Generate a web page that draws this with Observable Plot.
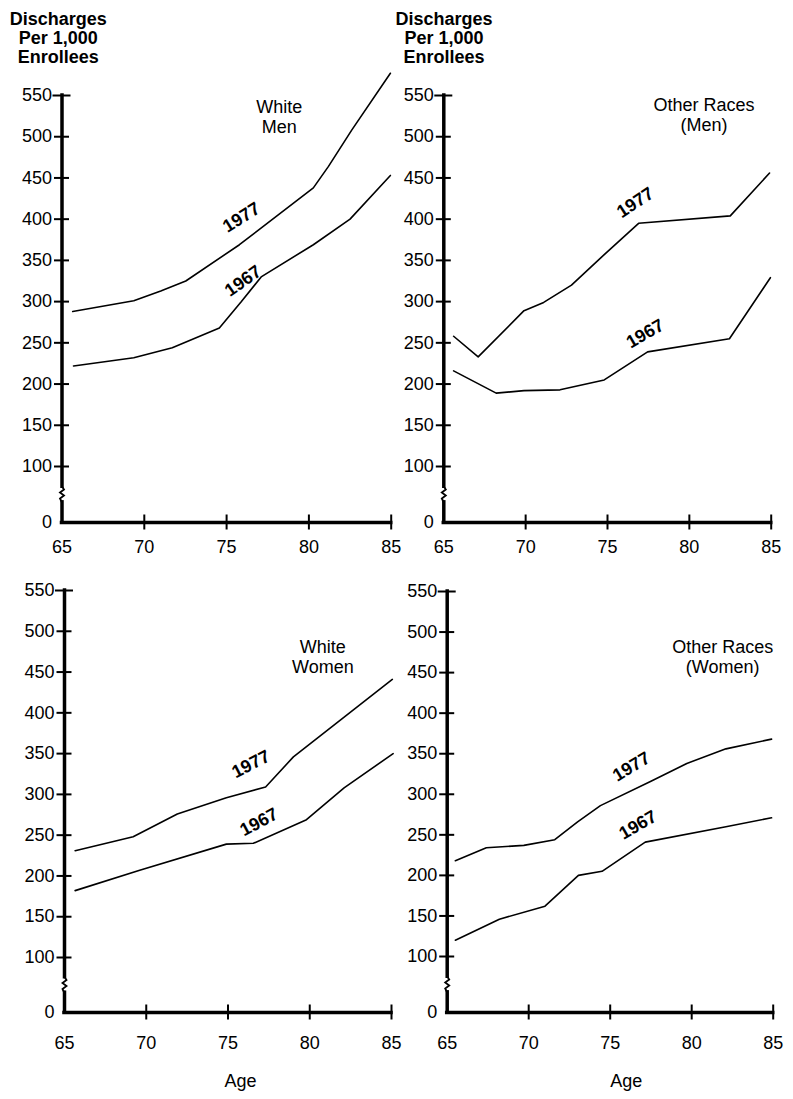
<!DOCTYPE html>
<html><head><meta charset="utf-8">
<script src="https://cdn.jsdelivr.net/npm/d3@7"></script>
<script src="https://cdn.jsdelivr.net/npm/@observablehq/plot@0.6"></script>
<style>
body{margin:0;background:#fff;}
#wrap{position:relative;width:793px;height:1099px;background:#fff;overflow:hidden;}
#wrap svg{position:absolute;}
</style></head><body><div id="wrap"></div>
<script>
// ---- data ----
const ageTicks = [65, 70, 75, 80, 85];
const rateTicks = [0, 100, 150, 200, 250, 300, 350, 400, 450, 500, 550];
const yTitle = "Discharges\nPer 1,000\nEnrollees";
const xTitle = "Age";
const years = ["1967", "1977"];
const panelNames = ["White\nMen", "Other Races\n(Men)", "White\nWomen", "Other Races\n(Women)"];

// [age, discharges per 1,000 enrollees]
const whiteMen1977 = [[65.65,288],[69.36,301],[71.0,313],[72.52,325],[75.78,369],[80.27,438],[81.19,464],[82.6,508],[84.95,577]];
const whiteMen1967 = [[65.7,222],[69.36,232],[71.7,244],[74.56,268],[75.9,300],[77.1,330],[80.27,369],[82.5,400],[84.95,453]];
const otherMen1977 = [[65.6,258],[67.1,233],[69.9,289],[71.1,299],[72.8,320],[74.8,357],[76.9,395],[82.5,404],[84.9,456]];
const otherMen1967 = [[65.6,216],[68.2,189],[69.9,192],[72.1,193],[74.8,205],[77.45,239],[82.45,255],[84.95,329]];
const whiteWomen1977 = [[65.65,231],[69.2,248],[71.9,276],[74.9,296],[77.3,309],[79.0,346],[85.05,441]];
const whiteWomen1967 = [[65.65,182],[69.6,207],[74.9,239],[76.55,240],[79.8,269],[82.1,308],[85.1,350]];
const otherWomen1977 = [[65.5,218],[67.4,234],[69.7,237],[71.6,244],[73.0,266],[74.4,286],[77.5,316],[79.7,338],[82.1,356],[84.9,368]];
const otherWomen1967 = [[65.5,120],[68.2,146],[71.0,162],[73.05,200],[74.5,205],[77.15,241],[82.1,260],[84.9,271]];

// ---- layout ----
const panels = [
  {left:0, top:0, width:400, height:560, ml:61.5, mr:9.3, y0:522, y100:466, y550:95,
   s77:whiteMen1977, s67:whiteMen1967, name:panelNames[0], namePos:[78.2,524],
   l77:[75.9,402,-32], l67:[76.0,325,-35], yTitle:true, yTitleDx:-3.8, xTitle:false, xPad:18},
  {left:390, top:0, width:403, height:560, ml:53.3, mr:22.3, y0:522, y100:466, y550:95,
   s77:otherMen1977, s67:otherMen1967, name:panelNames[1], namePos:[80.9,527],
   l77:[76.7,420,-33], l67:[77.3,261,-30], yTitle:true, yTitleDx:0.2, xTitle:false, xPad:18},
  {left:0, top:560, width:400, height:539, ml:64, mr:9, y0:452, y100:397, y550:30,
   s77:whiteWomen1977, s67:whiteWomen1967, name:panelNames[2], namePos:[80.8,469],
   l77:[76.4,337,-27], l67:[76.9,266,-28], yTitle:false, xTitle:true, xTitleDx:12.5, xPad:23.5},
  {left:390, top:560, width:403, height:539, ml:56.7, mr:20.3, y0:452, y100:396, y550:31,
   s77:otherWomen1977, s67:otherWomen1967, name:panelNames[3], namePos:[81.9,470],
   l77:[76.3,334,-31], l67:[76.7,262,-30], yTitle:false, xTitle:true, xTitleDx:16, xPad:23.5}
];

// small zig-zag symbol used for the axis break
const breakSymbol = {
  draw(ctx) {
    ctx.moveTo(0, -8);
    ctx.lineTo(2, -5);
    ctx.lineTo(-2, -2);
    ctx.lineTo(2, 1);
    ctx.lineTo(-2, 4);
    ctx.lineTo(0, 8);
  }
};

const wrap = document.getElementById("wrap");
const font = "'Liberation Sans', Arial, Helvetica, sans-serif";
const fs = 18;

for (const p of panels) {
  const fw = p.width - p.ml - p.mr;
  const fh = p.y0 - p.y550;
  const marks = [
    // y axis with break
    Plot.ruleX([{a:0,b:36},{a:64,b:550}], {x: () => 65, y1: d => d.a, y2: d => d.b, strokeWidth: 3.5, strokeLinecap: "square"}),
    Plot.dot([50], {x: () => 65, y: d => d, symbol: breakSymbol, r: 4, stroke: "black", fill: "none", strokeWidth: 1.8}),
    // x axis
    Plot.ruleY([0], {y: d => d, x1: () => 65, x2: () => 85, strokeWidth: 3.5, strokeLinecap: "square"}),
    // crossing ticks
    Plot.tickY(rateTicks.filter(d => d > 0 && d < 550), {y: d => d, insetRight: fw - 15, dx: -7.5, strokeWidth: 2}),
    Plot.tickY([550], {y: d => d, insetRight: fw - 18, dx: -9, strokeWidth: 2}),
    Plot.tickX(ageTicks.filter(d => d > 65), {x: d => d, insetTop: fh - 15, dy: 7.5, strokeWidth: 2}),
    // tick labels
    Plot.axisY(rateTicks, {tickSize: 0, tickPadding: 10, label: null, tickFormat: d => String(d), fontSize: fs}),
    Plot.axisX(ageTicks, {tickSize: 0, tickPadding: p.xPad, label: null, tickFormat: d => String(d), fontSize: fs}),
    // series
    Plot.line(p.s77, {x: d => d[0], y: d => d[1], stroke: "black", strokeWidth: 1.6}),
    Plot.line(p.s67, {x: d => d[0], y: d => d[1], stroke: "black", strokeWidth: 1.6}),
    Plot.text([p.l77], {x: d => d[0], y: d => d[1], rotate: p.l77[2], text: () => years[1], fontWeight: "bold", fontSize: fs}),
    Plot.text([p.l67], {x: d => d[0], y: d => d[1], rotate: p.l67[2], text: () => years[0], fontWeight: "bold", fontSize: fs}),
    Plot.text([p.name], {x: () => p.namePos[0], y: () => p.namePos[1], text: d => d, fontSize: fs, lineHeight: 1.1})
  ];
  if (p.yTitle) marks.push(Plot.text([yTitle], {frameAnchor: "top-left", dx: p.yTitleDx, dy: 37.3 - p.y550, text: d => d, fontWeight: "bold", fontSize: fs, lineHeight: 1.06, textAnchor: "middle", lineAnchor: "middle"}));
  if (p.xTitle) marks.push(Plot.text([xTitle], {frameAnchor: "bottom", dx: p.xTitleDx, dy: 69, text: d => d, fontSize: fs, lineAnchor: "middle"}));

  const svg = Plot.plot({
    width: p.width, height: p.height,
    marginLeft: p.ml, marginRight: p.mr, marginTop: p.y550, marginBottom: p.height - p.y0,
    x: {domain: [65, 85]},
    y: {type: "linear", domain: [0, 100, 550], range: [p.y0, p.y100, p.y550]},
    style: {fontFamily: font, fontSize: fs + "px", color: "black", background: "transparent", overflow: "visible"},
    marks
  });
  svg.style.left = p.left + "px";
  svg.style.top = p.top + "px";
  wrap.appendChild(svg);
}
</script></body></html>
